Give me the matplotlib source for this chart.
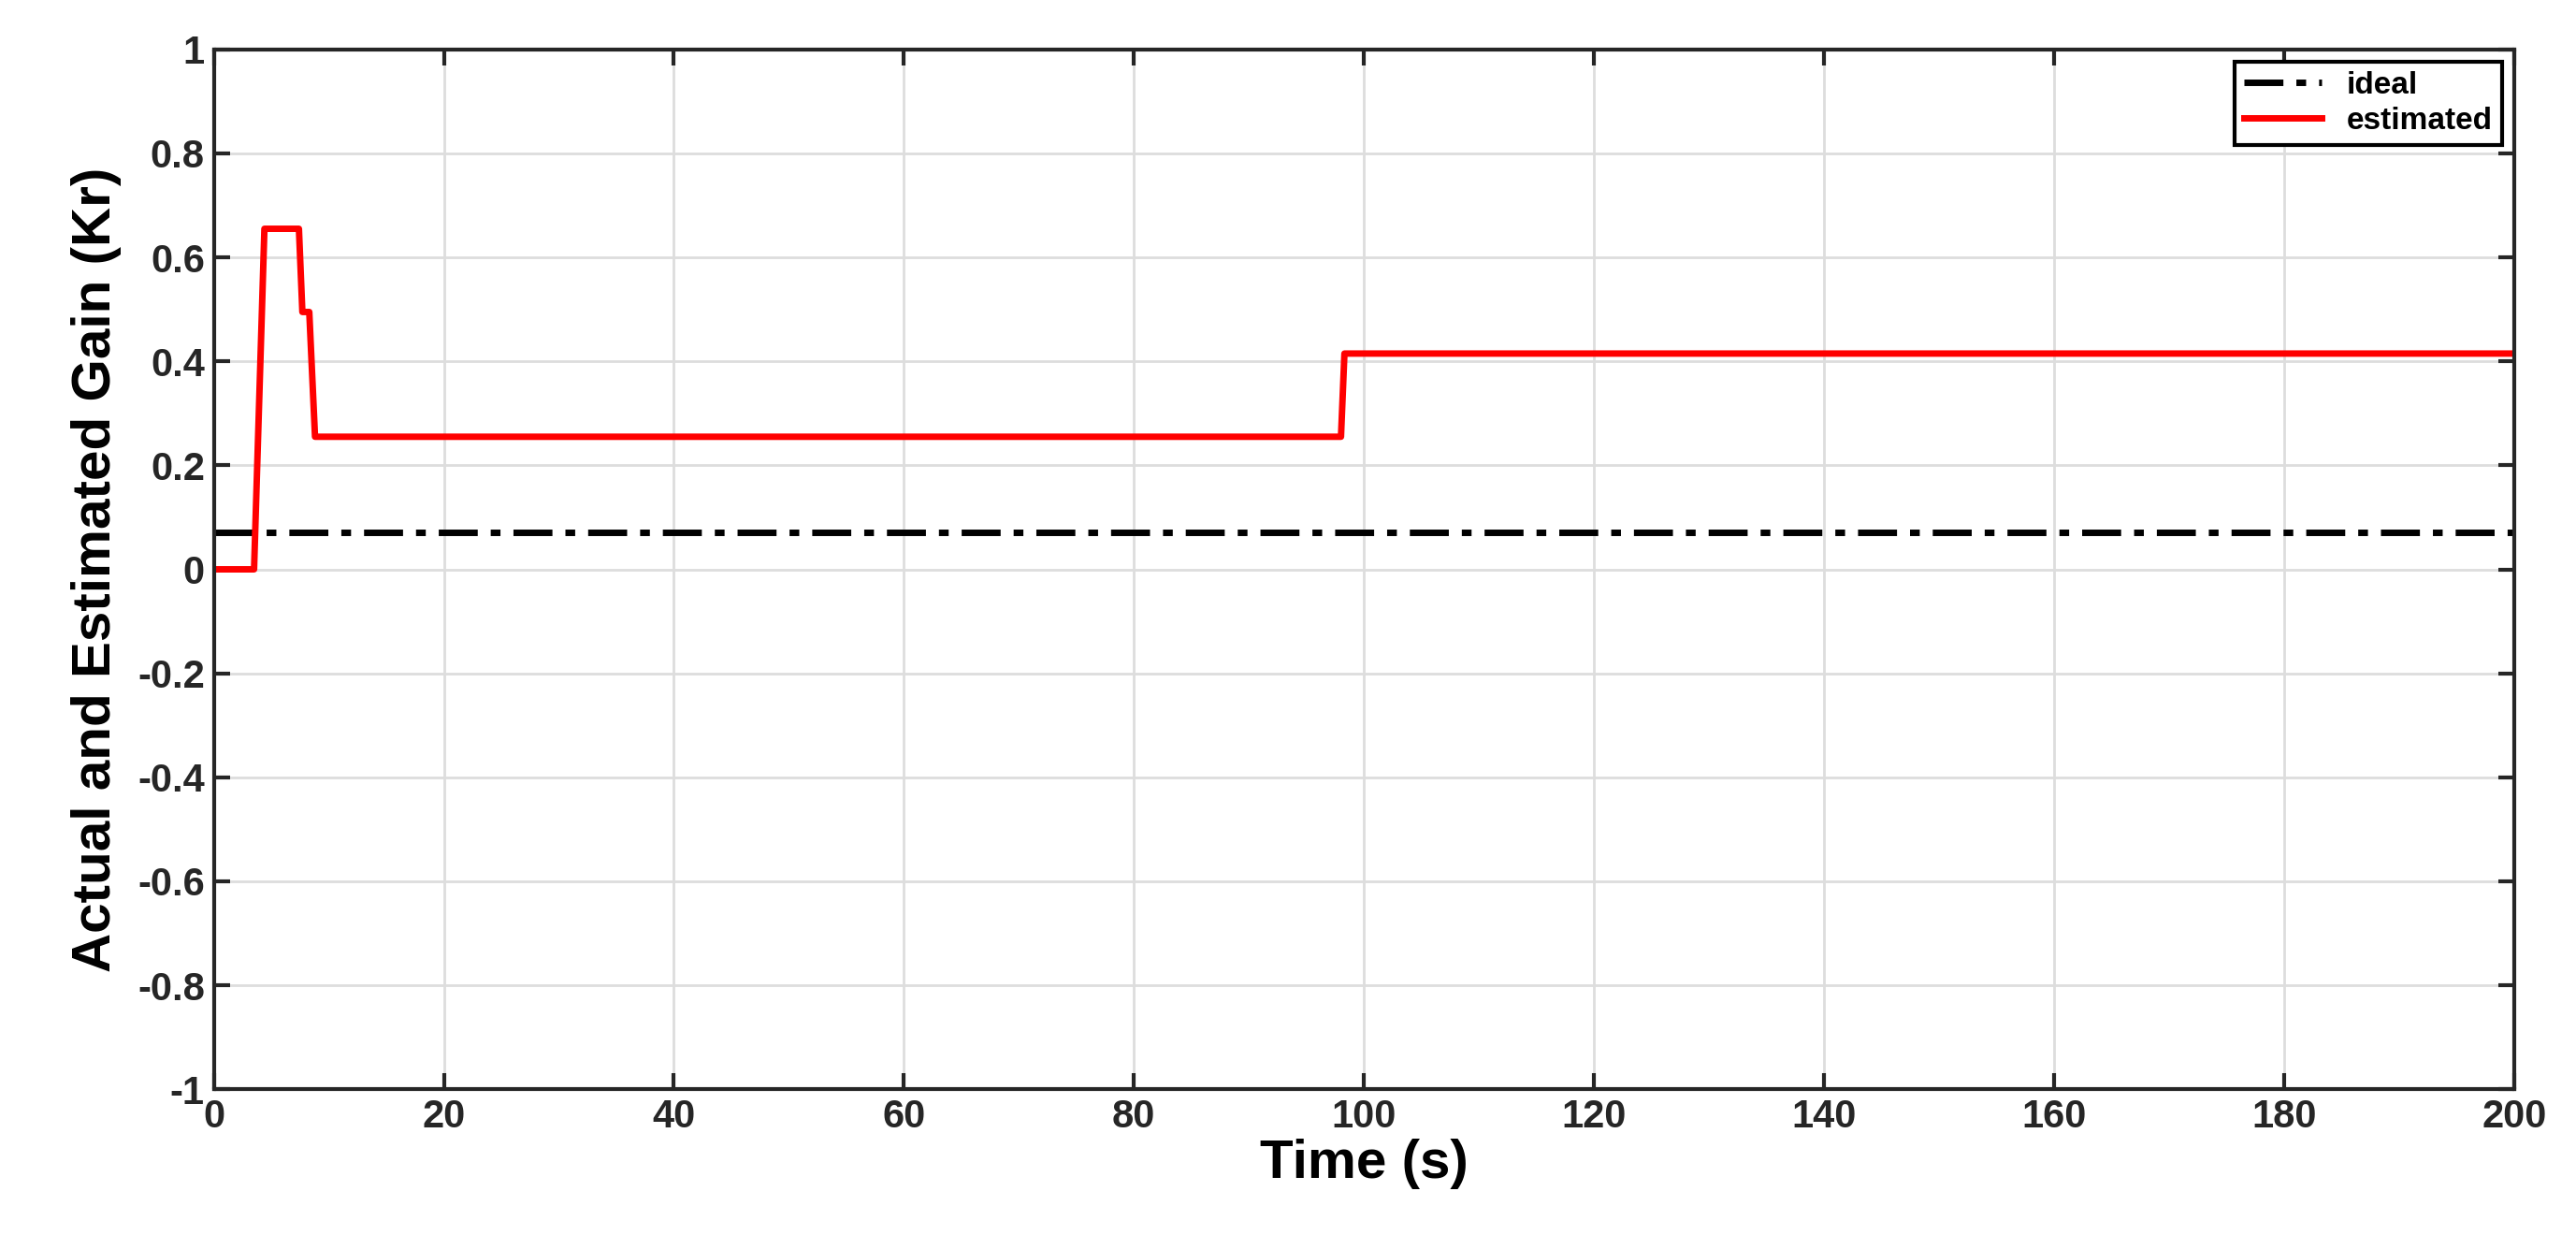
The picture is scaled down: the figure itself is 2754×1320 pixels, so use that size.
import matplotlib
matplotlib.use("Agg")
import matplotlib.pyplot as plt

t_est = [0, 3.5, 4.4, 7.4, 7.7, 8.3, 8.8, 98.0, 98.3, 200]
k_est = [0, 0, 0.655, 0.655, 0.495, 0.495, 0.255, 0.255, 0.415, 0.415]
t_ideal = [0, 200]
k_ideal = [0.072, 0.072]

plt.rcParams['font.family'] = ['Liberation Sans', 'DejaVu Sans']
fig = plt.figure(figsize=(13.77, 6.6), dpi=200)
ax = fig.add_axes([0.083, 0.118, 0.893, 0.842])
ax.plot(t_ideal, k_ideal, color='black', lw=2.5, ls=(0, (6, 2, 1.5, 2)), label='ideal')
ax.plot(t_est, k_est, color='red', lw=2.5, label='estimated')
ax.set_xlim(0, 200)
ax.set_ylim(-1, 1)
ax.set_xticks(range(0, 201, 20))
ax.set_yticks([-1, -0.8, -0.6, -0.4, -0.2, 0, 0.2, 0.4, 0.6, 0.8, 1])
ax.set_yticklabels(['-1', '-0.8', '-0.6', '-0.4', '-0.2', '0', '0.2', '0.4', '0.6', '0.8', '1'])
ax.grid(True, color='#dddddd', lw=1)
ax.tick_params(labelsize=15, width=1.5, length=6, colors='#262626', direction='in', top=True, right=True)
for lab in ax.get_xticklabels() + ax.get_yticklabels():
    lab.set_fontweight('bold')
for s in ax.spines.values():
    s.set_color('#262626'); s.set_linewidth(1.5)
ax.set_xlabel('Time (s)', fontsize=21, fontweight='bold', labelpad=1)
ax.set_ylabel('Actual and Estimated Gain (Kr)', fontsize=21, fontweight='bold', labelpad=6)
leg = ax.legend(loc='upper right', prop={'weight': 'bold', 'size': 12}, fancybox=False,
                edgecolor='black', framealpha=1, borderaxespad=0.4, handlelength=2.5,
                borderpad=0.3, labelspacing=0.2)
leg.get_frame().set_linewidth(1.5)
fig.savefig('out.png', dpi=200, facecolor='white')
